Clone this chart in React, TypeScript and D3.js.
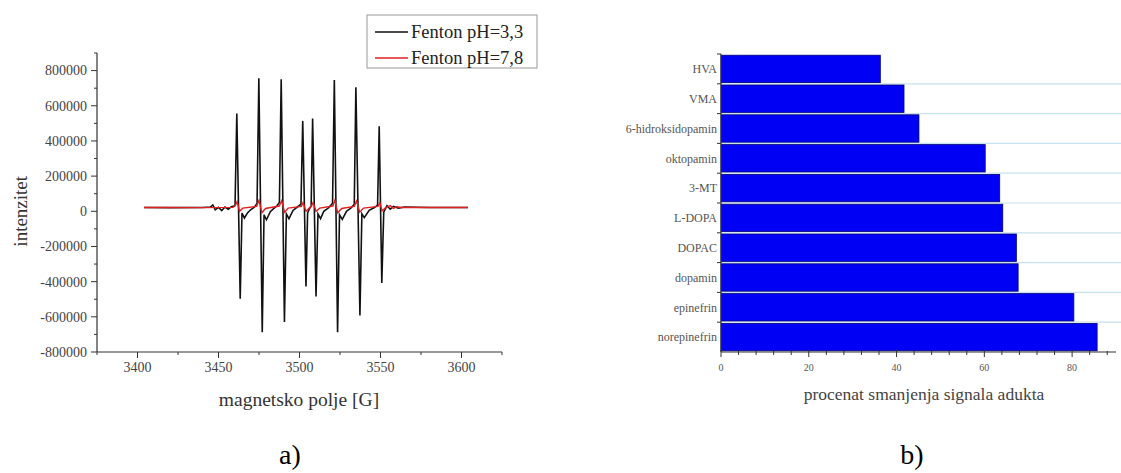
import React from "react";
import * as d3 from "d3";

// ---------- Panel a) EPR spectra ----------
const fieldTicks = [3400, 3450, 3500, 3550, 3600];
const fieldMinorTicks = [3375, 3425, 3475, 3525, 3575, 3625];
const intensityTicks = [-800000, -600000, -400000, -200000, 0, 200000, 400000, 600000, 800000];
const intensityMinorTicks = [-700000, -500000, -300000, -100000, 100000, 300000, 500000, 700000, 900000];

const seriesNames = ["Fenton pH=3,3", "Fenton pH=7,8"];

// [field (G), intensity]
const spectrumPH33: [number, number][] = [
  [3404, 22000], [3420, 21000], [3440, 22000], [3445, 24000], [3446.5, 36000], [3448, 8000],
  [3450, 22000], [3452, 4000], [3454, 24000], [3456, 12000], [3458, 26000], [3460.2, 32000],
  [3461.3, 556000], [3463.4, -497000], [3464.5, -10000], [3466, -38000], [3468, -8000], [3470, 10000], [3472, 22000], [3473.8, 45000],
  [3474.9, 756000], [3477.0, -687000], [3478.1, -20000], [3479.6, -48000], [3482, -2000], [3484, 15000], [3486, 30000], [3487.6, 50000],
  [3488.7, 750000], [3490.7, -630000], [3491.9, -15000], [3493.5, -42000], [3496, 5000], [3498, 20000], [3500.9, 40000],
  [3502.0, 514000], [3504.0, -427000], [3505.0, -10000], [3506.0, 12000], [3507.2, 30000],
  [3508.1, 528000], [3510.2, -484000], [3511.4, -15000], [3513, -42000], [3515, 0], [3518, 20000], [3520.4, 45000],
  [3521.5, 746000], [3523.5, -687000], [3524.7, -20000], [3526.4, -46000], [3529, 0], [3532, 20000], [3533.8, 40000],
  [3534.8, 705000], [3537.3, -592000], [3538.5, -15000], [3540, -36000], [3543, 5000], [3546, 20000], [3548.2, 35000],
  [3549.2, 484000], [3550.8, -408000], [3552, -5000], [3554, 32000], [3556, 12000], [3558, 28000], [3561, 18000],
  [3565, 24000], [3580, 22000], [3604, 22000],
];

const spectrumPH78: [number, number][] = [
  [3404, 22000], [3440, 21000], [3459, 22000], [3460.5, 35000], [3461.5, 55000], [3463, 0], [3465, 18000],
  [3473.5, 28000], [3475, 62000], [3476.8, -8000], [3479, 16000],
  [3487.5, 30000], [3489, 60000], [3490.8, -5000], [3493, 18000],
  [3501.2, 28000], [3502.2, 50000], [3504, 0], [3506, 18000],
  [3507.4, 30000], [3508.4, 50000], [3510.2, 0], [3512.5, 18000],
  [3520.6, 30000], [3521.8, 62000], [3523.6, -8000], [3526, 16000],
  [3533.8, 28000], [3535.2, 58000], [3537.2, -5000], [3539.5, 18000],
  [3548.4, 28000], [3549.6, 48000], [3551, 2000], [3553, 20000], [3556, 32000], [3558, 16000],
  [3560, 26000], [3563, 22000], [3604, 22000],
];

// ---------- Panel b) bar chart ----------
const compounds = [
  "HVA", "VMA", "6-hidroksidopamin", "oktopamin", "3-MT",
  "L-DOPA", "DOPAC", "dopamin", "epinefrin", "norepinefrin",
];
const reduction = [36.3, 41.7, 45.1, 60.2, 63.5, 64.2, 67.3, 67.7, 80.4, 85.7];
const percentTicks = [0, 20, 40, 60, 80];
const percentMinorTicks = [4, 8, 12, 16, 24, 28, 32, 36, 44, 48, 52, 56, 64, 68, 72, 76, 84, 88];

const SERIF = "'Liberation Serif', 'Times New Roman', serif";

export default function App() {
  // left panel scales
  const xA = d3.scaleLinear().domain([3375, 3625]).range([97, 502]);
  const yA = d3.scaleLinear().domain([-800000, 900000]).range([352, 53]);
  const line = d3
    .line<[number, number]>()
    .x((d) => xA(d[0]))
    .y((d) => yA(d[1]));

  // right panel scales
  const xB = d3.scaleLinear().domain([0, 90]).range([721, 1116]);
  const yB = d3.scaleBand<string>().domain(compounds).range([54, 352]).padding(0);
  const step = yB.step();

  const axisColor = "#333";
  const labelColor = "#444";

  return (
    <svg
      width={1121}
      height={473}
      style={{ position: "absolute", left: 0, top: 0, background: "#fff" }}
      fontFamily={SERIF}
    >
      <rect x={0} y={0} width={1121} height={473} fill="#fff" />

      {/* ===== Panel a ===== */}
      <g>
        {/* y axis */}
        <line x1={97} x2={97} y1={yA(900000)} y2={352} stroke={axisColor} strokeWidth={1.2} />
        {intensityTicks.map((t) => (
          <g key={"yt" + t}>
            <line x1={91} x2={97} y1={yA(t)} y2={yA(t)} stroke={axisColor} strokeWidth={1} />
            <text
              x={87}
              y={yA(t)}
              dy="0.35em"
              textAnchor="end"
              fontSize={14}
              fill={labelColor}
            >
              {t}
            </text>
          </g>
        ))}
        {intensityMinorTicks.map((t) => (
          <line key={"ym" + t} x1={94} x2={97} y1={yA(t)} y2={yA(t)} stroke={axisColor} strokeWidth={1} />
        ))}
        {/* x axis */}
        <line x1={97} x2={502} y1={352} y2={352} stroke={axisColor} strokeWidth={1.2} />
        {fieldTicks.map((t) => (
          <g key={"xt" + t}>
            <line x1={xA(t)} x2={xA(t)} y1={352} y2={358} stroke={axisColor} strokeWidth={1} />
            <text x={xA(t)} y={372} textAnchor="middle" fontSize={14} fill={labelColor}>
              {t}
            </text>
          </g>
        ))}
        {fieldMinorTicks.map((t) => (
          <line key={"xm" + t} x1={xA(t)} x2={xA(t)} y1={352} y2={355} stroke={axisColor} strokeWidth={1} />
        ))}

        {/* spectra */}
        <path d={line(spectrumPH33) || ""} fill="none" stroke="#111" strokeWidth={1.6} />
        <path d={line(spectrumPH78) || ""} fill="none" stroke="#e02020" strokeWidth={1.4} />

        {/* axis titles */}
        <text
          transform={`translate(20,${yA(0)}) rotate(-90)`}
          textAnchor="middle"
          dy="0.35em"
          fontSize={19}
          fill="#333"
        >
          intenzitet
        </text>
        <text x={299} y={406} textAnchor="middle" fontSize={19.5} fill="#333">
          magnetsko polje [G]
        </text>

        {/* legend */}
        <rect x={367} y={15} width={170} height={53} fill="#fff" stroke="#999" strokeWidth={1} />
        {seriesNames.map((name, i) => (
          <g key={name}>
            <line
              x1={375}
              x2={408}
              y1={32 + i * 26}
              y2={32 + i * 26}
              stroke={i === 0 ? "#111" : "#e02020"}
              strokeWidth={1.4}
            />
            <text x={411} y={32 + i * 26} dy="0.35em" fontSize={18.5} fill="#222">
              {name}
            </text>
          </g>
        ))}

        <text x={290} y={464} textAnchor="middle" fontSize={28} fill="#000">
          a)
        </text>
      </g>

      {/* ===== Panel b ===== */}
      <g>
        {/* gridlines at band boundaries */}
        {compounds.slice(1).map((c) => (
          <line
            key={"g" + c}
            x1={721}
            x2={1121}
            y1={(yB(c) as number)}
            y2={(yB(c) as number)}
            stroke="#c6e2ee"
            strokeWidth={1.2}
          />
        ))}
        {/* bars */}
        {compounds.map((c, i) => (
          <rect
            key={"b" + c}
            x={xB(0)}
            y={(yB(c) as number) + 1.2}
            width={xB(reduction[i]) - xB(0)}
            height={step - 2.4}
            fill="#0000f4"
            stroke="#00007a"
            strokeWidth={0.8}
          />
        ))}
        {/* y axis */}
        <line x1={721} x2={721} y1={54} y2={352} stroke={axisColor} strokeWidth={1.2} />
        {compounds.map((c) => (
          <g key={"yl" + c}>
            <line
              x1={717}
              x2={721}
              y1={yB(c) as number}
              y2={yB(c) as number}
              stroke={axisColor}
              strokeWidth={1}
            />
            <text
              x={717}
              y={(yB(c) as number) + step / 2}
              dy="0.35em"
              textAnchor="end"
              fontSize={12}
              fill="#555"
            >
              {c}
            </text>
          </g>
        ))}
        {/* x axis */}
        <line x1={721} x2={1116} y1={352} y2={352} stroke={axisColor} strokeWidth={1.2} />
        {percentTicks.map((t) => (
          <g key={"pt" + t}>
            <line x1={xB(t)} x2={xB(t)} y1={350} y2={357} stroke={axisColor} strokeWidth={1} />
            <text x={xB(t)} y={371} textAnchor="middle" fontSize={10} fill="#555">
              {t}
            </text>
          </g>
        ))}
        {percentMinorTicks.map((t) => (
          <line key={"pm" + t} x1={xB(t)} x2={xB(t)} y1={351} y2={355} stroke={axisColor} strokeWidth={1} />
        ))}
        <text x={924} y={400} textAnchor="middle" fontSize={17.5} fill="#444">
          procenat smanjenja signala adukta
        </text>

        <text x={912} y={464} textAnchor="middle" fontSize={28} fill="#000">
          b)
        </text>
      </g>
    </svg>
  );
}
